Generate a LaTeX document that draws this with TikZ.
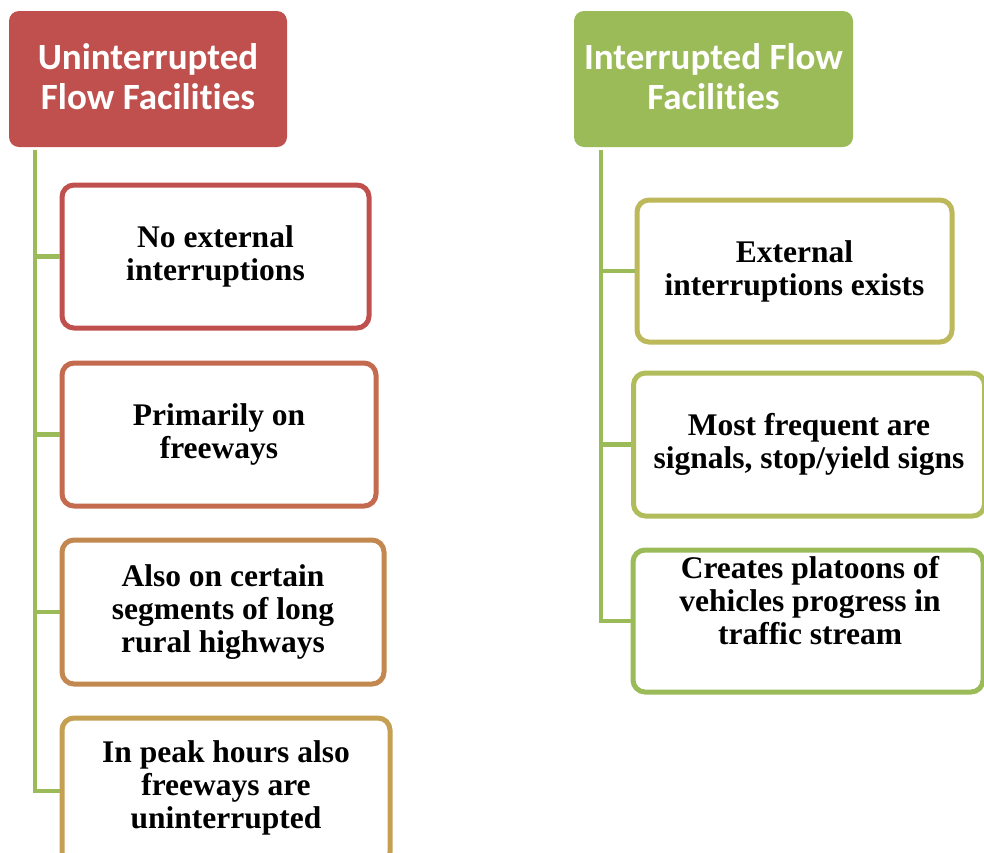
\documentclass[tikz,border=0pt]{standalone}
\usepackage{fontspec}
\setmainfont{Liberation Serif}
\newfontfamily\headfont[Ligatures=NoCommon]{Carlito}
\begin{document}
\begin{tikzpicture}[x=1pt,y=-1pt,
  header/.style={draw=none, rounded corners=10pt, inner sep=0pt},
  headtext/.style={text=white, align=center,
    font=\headfont\bfseries\fontsize{37}{40}\selectfont},
  itembox/.style={draw, line width=5pt, rounded corners=12pt, fill=white,
    inner sep=0pt, align=center,
    font=\bfseries\fontsize{31.5}{33}\selectfont},
  itemtext/.style={align=center, font=\bfseries\fontsize{31.5}{33}\selectfont},
  branch/.style={draw=conngreen, line width=4.5pt}
]
\definecolor{hdrred}{HTML}{C0504D}
\definecolor{hdrgreen}{HTML}{9BBB59}
\definecolor{conngreen}{HTML}{9BBB59}
\definecolor{bdrA}{HTML}{C0504D}
\definecolor{bdrB}{HTML}{C46A4E}
\definecolor{bdrC}{HTML}{C38750}
\definecolor{bdrD}{HTML}{C6A052}
\definecolor{bdrE}{HTML}{BDB85A}
\definecolor{bdrF}{HTML}{B0BD5A}
\definecolor{bdrG}{HTML}{9BBB59}

\useasboundingbox (0,0) rectangle (984,852);
\clip (0,0) rectangle (984,852);

% column headers
\node[header, fill=hdrred, minimum width=278pt, minimum height=136pt]
  (hdrL) at (148,79) {};
\node[headtext] at (148,77) {Uninterrupted\\Flow Facilities};
\node[header, fill=hdrgreen, minimum width=279pt, minimum height=136pt]
  (hdrR) at (713.5,79) {};
\node[headtext] at (713.5,77) {Interrupted Flow\\Facilities};

% left column items
\node[itembox, draw=bdrA, minimum width=307pt, minimum height=143pt]
  (bl1) at (215.5,256.5) {No external\\interruptions};
\node[itembox, draw=bdrB, minimum width=314pt, minimum height=143pt]
  (bl2) at (219,434.5) {Primarily on\\freeways};
\node[itembox, draw=bdrC, minimum width=322pt, minimum height=144pt]
  (bl3) at (223,612) {Also on certain\\segments of long\\rural highways};
\node[itembox, draw=bdrD, minimum width=328pt, minimum height=146pt]
  (bl4) at (226,791) {};
\node[itemtext] at (226,788) {In peak hours also\\freeways are\\uninterrupted};

% right column items
\node[itembox, draw=bdrE, minimum width=315pt, minimum height=142pt]
  (br1) at (794.5,271) {External\\interruptions exists};
\node[itembox, draw=bdrF, minimum width=351pt, minimum height=143pt]
  (br2) at (809,444.5) {Most frequent are\\signals, stop/yield signs};
\node[itembox, draw=bdrG, minimum width=350pt, minimum height=142pt]
  (br3) at (808,621) {};
\node[itemtext] at (810,601) {Creates platoons of\\vehicles progress in\\traffic stream};

% connectors from the headers to the items
\draw[branch] ([xshift=26pt,yshift=-3pt]hdrL.south west) |- (bl4.west);
\foreach \b in {bl1,bl2,bl3}
  \draw[branch] ([xshift=26pt]hdrL.south west |- \b.west) -- (\b.west);
\draw[branch] ([xshift=27pt,yshift=-3pt]hdrR.south west) |- (br3.west);
\foreach \b in {br1,br2}
  \draw[branch] ([xshift=27pt]hdrR.south west |- \b.west) -- (\b.west);
\end{tikzpicture}
\end{document}
